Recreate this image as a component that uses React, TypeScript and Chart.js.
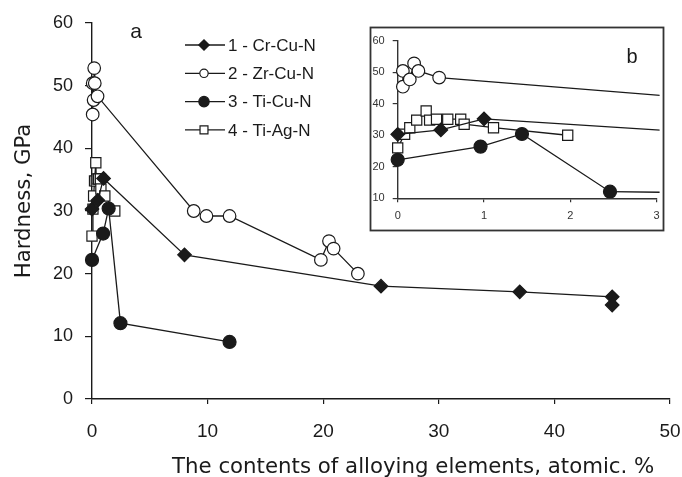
import { useEffect, useRef } from 'react';
import { Chart, registerables } from 'chart.js';
Chart.register(...registerables);

const seriesNames = ['1 - Cr-Cu-N', '2 - Zr-Cu-N', '3 - Ti-Cu-N', '4 - Ti-Ag-N'];
const crCuX = [0, 0.5, 1, 8, 25, 37, 45, 45];
const crCuY = [30.3, 31.7, 35.2, 23, 18, 17.1, 16.3, 15];
const zrCuX = [0.06, 0.06, 0.14, 0.19, 0.24, 0.48, 8.8, 9.9, 11.9, 19.8, 20.5, 20.9, 23];
const zrCuY = [45.4, 50.4, 47.7, 52.8, 50.4, 48.3, 30, 29.2, 29.2, 22.2, 25.2, 24, 20];
const tiCuX = [0, 0.96, 1.44, 2.46, 11.9];
const tiCuY = [22.2, 26.4, 30.4, 12.1, 9.1];
const tiAgX = [0, 0.08, 0.14, 0.22, 0.33, 0.37, 0.45, 0.58, 0.73, 0.77, 1.11, 1.97];
const tiAgY = [26, 30.3, 32.4, 34.8, 37.7, 34.8, 35.1, 35.1, 35.1, 33.5, 32.4, 30];

const mainX = { min: 0, max: 50, step: 10 };
const mainY = { min: 0, max: 60, step: 10 };
const insetX = { min: 0, max: 3, step: 1 };
const insetY = { min: 10, max: 60, step: 10 };

const xTitle = 'The contents of alloying elements, atomic. %';
const yTitle = 'Hardness, GPa';
const panelA = 'a';
const panelB = 'b';

const INK = '#1a1a1a';

type Style = { pointStyle: string; fill: string; radius: number };
const styles: Style[] = [
  { pointStyle: 'rectRot', fill: INK, radius: 6.8 },
  { pointStyle: 'circle', fill: '#ffffff', radius: 6.3 },
  { pointStyle: 'circle', fill: INK, radius: 6.5 },
  { pointStyle: 'rect', fill: '#ffffff', radius: 7.2 },
];

const seriesData = [
  [crCuX, crCuY],
  [zrCuX, zrCuY],
  [tiCuX, tiCuY],
  [tiAgX, tiAgY],
];

function buildDatasets(clip: any) {
  return seriesData.map(([xs, ys], i) => ({
    label: seriesNames[i],
    data: xs.map((x, j) => ({ x, y: ys[j] })),
    borderColor: INK,
    borderWidth: 1.3,
    pointStyle: styles[i].pointStyle as any,
    pointBackgroundColor: styles[i].fill,
    pointBorderColor: INK,
    pointBorderWidth: 1.2,
    pointRadius: styles[i].radius,
    pointHoverRadius: styles[i].radius,
    showLine: true,
    tension: 0,
    fill: false,
    clip,
  }));
}

function drawMarker(ctx: CanvasRenderingContext2D, kind: string, x: number, y: number, r: number, fill: string) {
  ctx.beginPath();
  if (kind === 'circle') {
    ctx.arc(x, y, r, 0, Math.PI * 2);
  } else if (kind === 'rect') {
    const s = r * Math.SQRT1_2;
    ctx.rect(x - s, y - s, 2 * s, 2 * s);
  } else {
    ctx.moveTo(x - r, y);
    ctx.lineTo(x, y - r);
    ctx.lineTo(x + r, y);
    ctx.lineTo(x, y + r);
    ctx.closePath();
  }
  ctx.fillStyle = fill;
  ctx.fill();
  ctx.lineWidth = 1.2;
  ctx.strokeStyle = INK;
  ctx.stroke();
}

const mainDecor = {
  id: 'mainDecor',
  afterDraw(chart: any) {
    const { ctx, chartArea: ca } = chart;
    ctx.save();
    ctx.fillStyle = INK;
    ctx.font = '21.3px "DejaVu Sans"';
    ctx.textAlign = 'left';
    ctx.textBaseline = 'alphabetic';
    ctx.fillText(xTitle, ca.left + 80, ca.bottom + 74);
    ctx.save();
    ctx.translate(24, (ca.top + ca.bottom) / 2 - 10);
    ctx.rotate(-Math.PI / 2);
    ctx.textAlign = 'center';
    ctx.textBaseline = 'middle';
    ctx.fillText(yTitle, 0, 0);
    ctx.restore();
    ctx.font = '21px "Liberation Sans"';
    ctx.textAlign = 'center';
    ctx.textBaseline = 'alphabetic';
    ctx.fillText(panelA, ca.left + 44, ca.top + 15);
    // legend
    const lx = ca.left + 93;
    const ly = ca.top + 22;
    const gap = 28.3;
    ctx.font = '17px "Liberation Sans"';
    ctx.textAlign = 'left';
    ctx.textBaseline = 'middle';
    const legR = [5.2, 4.2, 5.2, 5.6];
    seriesNames.forEach((name, i) => {
      const y = ly + i * gap;
      ctx.beginPath();
      ctx.moveTo(lx, y);
      ctx.lineTo(lx + 40, y);
      ctx.strokeStyle = INK;
      ctx.lineWidth = 1.3;
      ctx.stroke();
      drawMarker(ctx, styles[i].pointStyle, lx + 19, y, legR[i], styles[i].fill);
      ctx.fillStyle = INK;
      ctx.fillText(name, lx + 43, y + 1);
    });
    ctx.restore();
  },
};

const insetDecor = {
  id: 'insetDecor',
  beforeDraw(chart: any) {
    const { ctx, width, height } = chart;
    ctx.save();
    ctx.fillStyle = '#ffffff';
    ctx.fillRect(0, 0, width, height);
    ctx.restore();
  },
  afterDraw(chart: any) {
    const { ctx, width, height } = chart;
    ctx.save();
    ctx.strokeStyle = '#333333';
    ctx.lineWidth = 1.8;
    ctx.strokeRect(1.5, 1.5, width - 3, height - 3);
    ctx.fillStyle = INK;
    ctx.font = '20px "Liberation Sans"';
    ctx.textAlign = 'center';
    ctx.textBaseline = 'alphabetic';
    ctx.fillText(panelB, 263, 37);
    ctx.restore();
  },
};

function axis(range: { min: number; max: number; step: number }, opts: any) {
  return {
    type: 'linear',
    min: range.min,
    max: range.max,
    ticks: {
      stepSize: range.step,
      color: opts.tickColor,
      font: { family: 'Liberation Sans', size: opts.fontSize },
      padding: opts.padding,
      maxRotation: 0,
      autoSkip: false,
    },
    grid: {
      drawOnChartArea: false,
      drawTicks: true,
      tickLength: opts.tickLength,
      color: opts.lineColor,
      lineWidth: 1.2,
    },
    border: { display: true, color: opts.lineColor, width: 1.4 },
    title: { display: false },
    afterFit: (s: any) => {
      opts.afterFit(s);
      s.paddingLeft = 0;
      s.paddingRight = 0;
      s.paddingTop = 0;
      s.paddingBottom = 0;
    },
  };
}

export default function App() {
  const mainRef = useRef<HTMLCanvasElement>(null);
  const insetRef = useRef<HTMLCanvasElement>(null);

  useEffect(() => {
    if (!mainRef.current || !insetRef.current) return;
    const main = new Chart(mainRef.current, {
      type: 'scatter',
      data: { datasets: buildDatasets(false) as any },
      options: {
        responsive: false,
        animation: false,
        devicePixelRatio: 1,
        layout: { padding: { left: 0, top: 23, right: 12, bottom: 0 } },
        plugins: { legend: { display: false }, tooltip: { enabled: false }, title: { display: false } },
        scales: {
          x: axis(mainX, {
            tickColor: INK, fontSize: 19, padding: 16, tickLength: 5, lineColor: INK,
            afterFit: (s: any) => { s.height = 78; },
          }),
          y: axis(mainY, {
            tickColor: INK, fontSize: 18, padding: 12, tickLength: 7, lineColor: INK,
            afterFit: (s: any) => { s.width = 92; },
          }),
        } as any,
      },
      plugins: [mainDecor],
    });
    const inset = new Chart(insetRef.current, {
      type: 'scatter',
      data: { datasets: buildDatasets({ left: false, top: false, right: 3, bottom: 0 }) as any },
      options: {
        responsive: false,
        animation: false,
        devicePixelRatio: 1,
        layout: { padding: { left: 0, top: 14.7, right: 5, bottom: 0 } },
        plugins: { legend: { display: false }, tooltip: { enabled: false }, title: { display: false } },
        scales: {
          x: axis(insetX, {
            tickColor: '#333333', fontSize: 11, padding: 7, tickLength: 4, lineColor: '#333333',
            afterFit: (s: any) => { s.height = 33.7; },
          }),
          y: axis(insetY, {
            tickColor: '#333333', fontSize: 11, padding: 8, tickLength: 5, lineColor: '#333333',
            afterFit: (s: any) => { s.width = 28.7; },
          }),
        } as any,
      },
      plugins: [insetDecor],
    });
    return () => {
      main.destroy();
      inset.destroy();
    };
  }, []);

  return (
    <div style={{ position: 'fixed', left: 0, top: 0, width: 682, height: 477, background: '#ffffff' }}>
      <canvas ref={mainRef} width={682} height={477} style={{ position: 'absolute', left: 0, top: 0, width: 682, height: 477 }} />
      <canvas ref={insetRef} width={296} height={206} style={{ position: 'absolute', left: 369, top: 26, width: 296, height: 206 }} />
    </div>
  );
}
